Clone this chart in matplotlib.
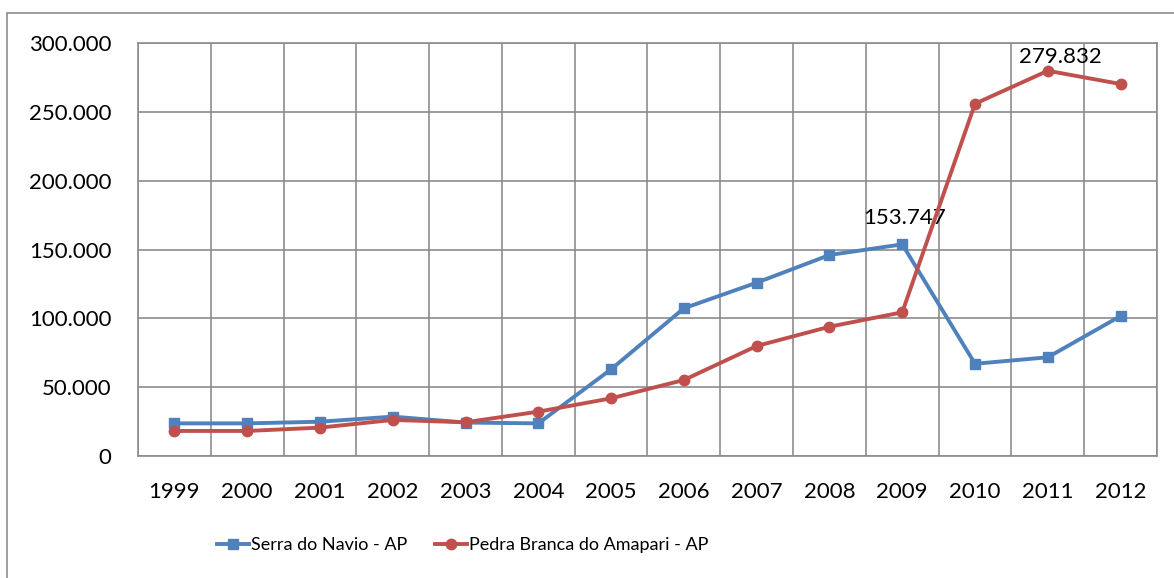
import numpy as np
import matplotlib
matplotlib.use("Agg")
import matplotlib.pyplot as plt
from matplotlib.patches import Rectangle
from matplotlib.ticker import FuncFormatter

plt.rcParams["font.family"] = ["Lato", "DejaVu Sans"]

# --- data ---
years = ["1999", "2000", "2001", "2002", "2003", "2004", "2005",
         "2006", "2007", "2008", "2009", "2010", "2011", "2012"]
serra_navio = [23700, 23700, 24900, 28600, 24300, 23700, 63000,
               107300, 125900, 146000, 153747, 67000, 71700, 101700]
pedra_branca = [18200, 18200, 20600, 26200, 24500, 32200, 41900,
                55200, 79900, 93900, 104400, 255900, 279832, 270200]
serra_label = "Serra do Navio - AP"
pedra_label = "Pedra Branca do Amapari - AP"

BLUE = "#4F81BD"
RED = "#C0504D"
GRID = "#8C8C8C"

fig = plt.figure(figsize=(11.74, 5.78), dpi=100)
ax = fig.add_axes([138 / 1174, 1 - 456 / 578, (1157 - 138) / 1174, (456 - 43) / 578])

x = np.arange(len(years))
ax.plot(x, serra_navio, color=BLUE, lw=2.8, marker="s", ms=7.5,
        label=serra_label, zorder=3)
ax.plot(x, pedra_branca, color=RED, lw=2.8, marker="o", ms=7.5,
        label=pedra_label, zorder=4)

# data labels on the peaks
i_s = int(np.argmax(serra_navio))
ax.annotate(f"{serra_navio[i_s]:,}".replace(",", "."), (x[i_s], serra_navio[i_s]),
            xytext=(2, 19), textcoords="offset points", ha="center", va="center",
            fontsize=16)
i_p = int(np.argmax(pedra_branca))
ax.annotate(f"{pedra_branca[i_p]:,}".replace(",", "."), (x[i_p], pedra_branca[i_p]),
            xytext=(9, 10), textcoords="offset points", ha="center", va="center",
            fontsize=16)

ax.set_xlim(-0.5, len(years) - 0.5)
ax.set_ylim(0, 300000)
ax.set_xticks(x)
ax.set_xticklabels(years)
ax.set_xticks(np.arange(-0.5, len(years), 1.0), minor=True)
ax.set_yticks(np.arange(0, 300001, 50000))
ax.yaxis.set_major_formatter(FuncFormatter(lambda v, p: f"{int(v):,}".replace(",", ".")))

ax.grid(True, which="minor", axis="x", color=GRID, lw=1.2)
ax.grid(True, which="major", axis="y", color=GRID, lw=1.2)
ax.tick_params(which="both", length=0)
ax.tick_params(axis="x", pad=19, labelsize=16)
ax.tick_params(axis="y", pad=19, labelsize=16)
for s in ax.spines.values():
    s.set_color(GRID)
    s.set_linewidth(1.2)

fig.legend(loc="center", bbox_to_anchor=(0.394, 1 - 545 / 578), ncol=2,
           frameon=False, fontsize=13, handlelength=1.8, handletextpad=0.1,
           columnspacing=1.5)

# outer chart border
fig.patches.append(Rectangle((7 / 1174, -0.1), 1.2, 1.1 - 13.5 / 578,
                             transform=fig.transFigure, fill=False,
                             edgecolor=GRID, lw=1.2))

fig.savefig("out.png", dpi=100)
plt.close(fig)
